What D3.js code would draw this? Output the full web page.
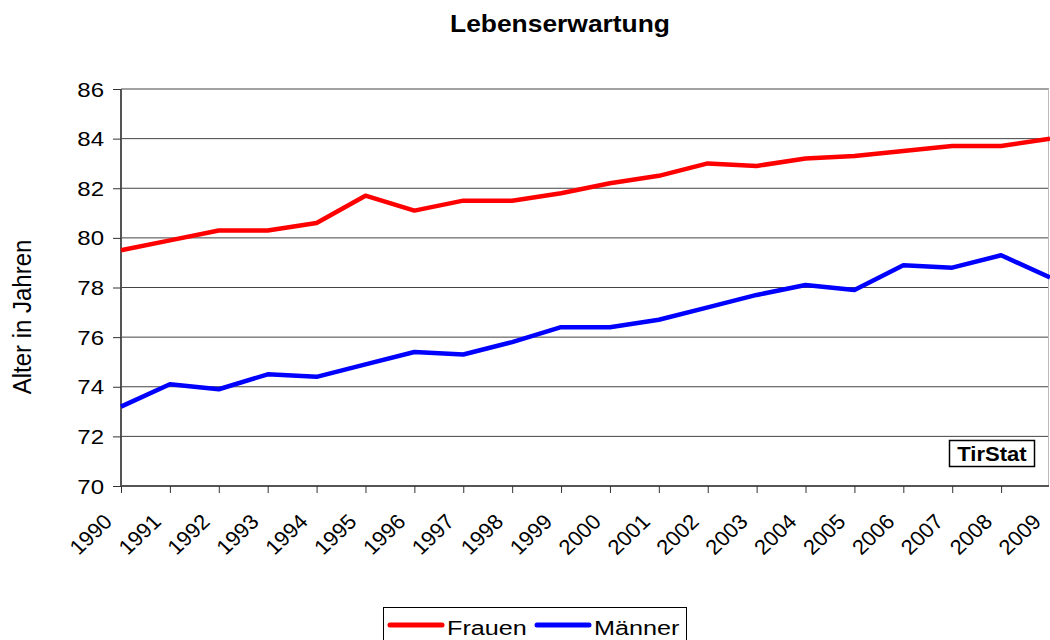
<!DOCTYPE html>
<html>
<head>
<meta charset="utf-8">
<script src="https://cdn.jsdelivr.net/npm/d3@7"></script>
<style>
body { margin: 0; background: #fff; }
text { font-family: "Liberation Sans", Arial, sans-serif; fill: #000; }
</style>
</head>
<body>
<div id="chart"></div>
<script>
var years = [1990,1991,1992,1993,1994,1995,1996,1997,1998,1999,2000,2001,2002,2003,2004,2005,2006,2007,2008,2009];
var frauen = [79.5,79.9,80.3,80.3,80.6,81.7,81.1,81.5,81.5,81.8,82.2,82.5,83.0,82.9,83.2,83.3,83.5,83.7,83.7,84.0];
var maenner = [73.2,74.1,73.9,74.5,74.4,74.9,75.4,75.3,75.8,76.4,76.4,76.7,77.2,77.7,78.1,77.9,78.9,78.8,79.3,78.4];
var yTicks = [70,72,74,76,78,80,82,84,86];
var seriesNames = ["Frauen", "Männer"];
var seriesColors = ["#ff0000", "#0000ff"];

var width = 1050, height = 640;
var plotL = 121, plotR = 1050, plotT = 89, plotB = 486;

var svg = d3.select("#chart").append("svg")
	.attr("width", width)
	.attr("height", height);

var x = d3.scalePoint().domain(years).range([plotL, plotR]);
var y = d3.scaleLinear().domain([70, 86]).range([plotB, plotT]);

// text that looks a bit wider than normal (like in the picture)
function wideText(g, tx, ty, sx, rot) {
	return g.append("text")
		.attr("transform", "translate(" + tx + "," + ty + ") scale(" + sx + ",1)" + (rot ? " rotate(" + rot + ")" : ""));
}

// gridlines
svg.selectAll(".grid").data(yTicks.slice(1)).enter().append("line")
	.attr("x1", plotL).attr("x2", plotR - 1)
	.attr("y1", function(d){ return y(d); })
	.attr("y2", function(d){ return y(d); })
	.attr("stroke", "#444")
	.attr("stroke-width", 1);

// right border
svg.append("line")
	.attr("x1", plotR - 1.5).attr("x2", plotR - 1.5)
	.attr("y1", plotT).attr("y2", plotB)
	.attr("stroke", "#bbb");

// y axis
var yAxis = svg.append("g")
	.attr("transform", "translate(" + plotL + ",0)")
	.call(d3.axisLeft(y).tickValues(yTicks).tickSize(8).tickFormat(d3.format("d")));
yAxis.select(".domain").attr("stroke", "#555").attr("stroke-width", 2).attr("d", "M0," + plotT + "V" + plotB);
yAxis.selectAll(".tick line").attr("stroke", "#333");
yAxis.selectAll("text")
	.attr("font-size", "20px")
	.attr("x", -17 / 1.2)
	.attr("dy", "0.35em")
	.attr("transform", "scale(1.2,1)");

// x axis
var xAxis = svg.append("g")
	.attr("transform", "translate(0," + plotB + ")")
	.call(d3.axisBottom(x).tickSize(7).tickPadding(0));
xAxis.select(".domain").attr("stroke", "#555").attr("stroke-width", 2).attr("d", "M" + plotL + ",0H" + (plotR - 1));
xAxis.selectAll(".tick line").attr("stroke", "#333");
xAxis.selectAll("text")
	.attr("font-size", "21px")
	.attr("text-anchor", "end")
	.attr("y", 0)
	.attr("dy", 0)
	.attr("transform", "translate(-8,37) scale(1.05,1) rotate(-45)");

// lines
var line = d3.line()
	.x(function(d, i){ return x(years[i]); })
	.y(function(d){ return y(d); });

[frauen, maenner].forEach(function(vals, k){
	svg.append("path").datum(vals)
		.attr("d", line).attr("fill", "none")
		.attr("stroke", seriesColors[k]).attr("stroke-width", 4.5).attr("stroke-linejoin", "round");
});

// title
wideText(svg, 560, 32, 1.1)
	.attr("text-anchor", "middle")
	.attr("font-size", "24px").attr("font-weight", "bold")
	.text("Lebenserwartung");

// y label
wideText(svg, 31, 317, 1.05, -90)
	.attr("text-anchor", "middle")
	.attr("font-size", "24px")
	.text("Alter in Jahren");

// TirStat box
svg.append("rect")
	.attr("x", 949.5).attr("y", 440.5).attr("width", 85).attr("height", 26)
	.attr("fill", "#fff").attr("stroke", "#000").attr("stroke-width", 1.5);
wideText(svg, 992, 461, 1.05)
	.attr("text-anchor", "middle")
	.attr("font-size", "21px").attr("font-weight", "bold")
	.text("TirStat");

// legend
var legend = svg.append("g");
legend.append("rect")
	.attr("x", 383.5).attr("y", 607.5).attr("width", 303).attr("height", 45)
	.attr("fill", "#fff").attr("stroke", "#000");
var legendX = [390, 537];
seriesNames.forEach(function(name, k){
	legend.append("line")
		.attr("x1", legendX[k]).attr("x2", legendX[k] + 52)
		.attr("y1", 625).attr("y2", 625)
		.attr("stroke", seriesColors[k]).attr("stroke-width", 5).attr("stroke-linecap", "round");
	wideText(legend, legendX[k] + 57, 635, 1.2)
		.attr("font-size", "21px")
		.text(name);
});
</script>
</body>
</html>
